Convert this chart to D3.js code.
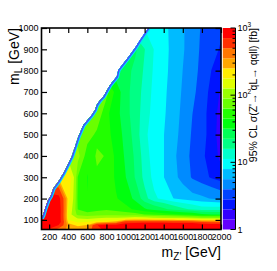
<!DOCTYPE html>
<html><head><meta charset="utf-8">
<script src="https://cdn.jsdelivr.net/npm/d3@7"></script>
<style>
body{margin:0;background:#fff}
svg{display:block}
text{font-family:"Liberation Sans",Arial,Helvetica,sans-serif;fill:#000}
</style>
</head><body>
<svg id="c" width="277" height="271"></svg>
<script>
// ---- data ----
const mZ = [120, 200, 300, 400, 500, 600, 700, 800, 900, 1000, 1100, 1200, 1300, 1400, 1500, 1600, 1700, 1800, 1900, 2000];
const mL = [55, 75, 90, 100, 110, 125, 150, 200, 300, 400, 500, 600, 700, 800, 900, 1000];
// 95% CL cross-section limit [fb], one row per mL value (null = not covered)
const r55   = [760, 680, 420, 330, 320, 380, 650, 760, 780, 800, 820, 850, 850, 850, 850, 860, 870, 900, 900, 900];
const r75   = [850, 850, 700, 300, 230, 260, 700, 800, 800, 820, 840, 850, 860, 860, 860, 870, 880, 880, 880, 880];
const r90   = [850, 900, 850, 220, 170, 180, 230, 250, 300, 650, 660, 660, 660, 660, 650, 640, 620, 500, 470, 470];
const r100  = [850, 900, 850, 180, 140, 140, 150, 160, 170, 260, 280, 280, 270, 270, 260, 240, 220, 200, 190, 190];
const r110  = [null, 900, 850, 160, 120, 110, 120, 125, 125, 130, 145, 135, 125, 118, 115, 108, 98, 90, 88, 88];
const r125  = [null, 900, 850, 150, 80, 72, 78, 80, 78, 75, 72, 64, 57, 52, 48, 44, 40, 34, 32, 32];
const r150  = [null, 900, 850, 170, 62, 52, 56, 60, 56, 50, 42, 33, 28, 24, 20, 17, 15, 13, 13, 13];
const r200  = [null, 850, 800, 200, 58, 45, 50, 52, 46, 38, 29, 18, 12, 10, 8, 7, 6.3, 6, 5.5, 5];
const r300  = [null, null, null, 220, 62, 44, 60, 56, 42, 32, 22, 14, 10, 8, 6.2, 5, 3.8, 3.2, 2.7, 2.3];
const r400  = [null, null, null, null, 100, 48, 66, 62, 40, 30, 21, 13, 9.5, 8, 6, 4.8, 3.6, 3, 2.4, 1.8];
const r500  = [null, null, null, null, null, 75, 58, 50, 38, 28, 19, 12, 9.5, 8, 6.3, 5, 3.8, 3.2, 2.4, 1.6];
const r600  = [null, null, null, null, null, null, 80, 48, 36, 25, 19, 13, 9.8, 8.3, 6.5, 5.2, 4, 3.2, 2.4, 1.7];
const r700  = [null, null, null, null, null, null, null, 70, 38, 25, 19, 14, 10, 8.5, 6.7, 5.4, 4.3, 3.4, 2.5, 1.9];
const r800  = [null, null, null, null, null, null, null, null, null, 26, 20, 15, 10.5, 8.8, 6.9, 5.6, 4.5, 3.6, 2.8, 2.2];
const r900  = [null, null, null, null, null, null, null, null, null, null, 24, 16, 11, 9, 7, 5.8, 4.7, 3.7, 3.2, 2.7];
const r1000 = [null, null, null, null, null, null, null, null, null, null, null, null, 11, 8.8, 7, 5.8, 4.8, 3.8, 3.3, 3.0];
const sigmaRows = [r55, r75, r90, r100, r110, r125, r150, r200, r300, r400, r500, r600, r700, r800, r900, r1000];
// edge of the covered region (mZ', mL)
const edgeZ = [120, 136, 160, 188, 215, 244, 296, 348, 384, 436, 471, 505, 558, 646, 680, 698, 733, 767, 837, 908, 924, 1012, 1099, 1152, 1238];
const edgeL = [108, 123, 158, 192, 212, 249, 280, 319, 350, 397, 444, 490, 545, 592, 616, 639, 662, 678, 733, 772, 803, 853, 906, 944, 1000];
const xTicks = [200, 400, 600, 800, 1000, 1200, 1400, 1600, 1800, 2000];
const yTicks = [100, 200, 300, 400, 500, 600, 700, 800, 900, 1000];
const zTicks = [1, 10, 100, 1000];

// ---- layout ----
const svg = d3.select("#c");
const L = 41.5, R = 221, T = 28, B = 229.5;
const x = d3.scaleLinear().domain([120, 2000]).range([L, R]);
const y = d3.scaleLinear().domain([55, 1000]).range([B, T]);
const z = d3.scaleLog().domain([1, 1000]).range([B, T]);

// ROOT-style rainbow palette, 20 log-spaced levels
const nLev = 20;
const levels = d3.range(nLev).map(k => Math.pow(10, 3 * k / nLev));
const levColor = k => {
  const idx = Math.floor((k + 0.99) * 50 / nLev);
  return d3.hsl(280 - (idx + 1) * 5.6, 1, 0.5).formatHex();
};

// fill uncovered cells with nearest covered value in the row (hidden by clip)
const n = mZ.length, m = mL.length;
const vals = [];
sigmaRows.forEach(row => {
  row.forEach((v, i) => {
    if (v != null) { vals.push(v); return; }
    let best = null, bd = 1e9;
    row.forEach((w, k) => { if (w != null && Math.abs(k - i) < bd) { bd = Math.abs(k - i); best = w; } });
    vals.push(best);
  });
});

const ix = d3.scaleLinear().domain(d3.range(n)).range(mZ);
const iy = d3.scaleLinear().domain(d3.range(m)).range(mL);
const proj = d3.geoTransform({
  point(px, py) {
    const a = Math.max(0, Math.min(n - 1, px - 0.5));
    const b = Math.max(0, Math.min(m - 1, py - 0.5));
    this.stream.point(x(ix(a)), y(iy(b)));
  }
});
const gp = d3.geoPath(proj);

// clip polygon: covered region
const edgePts = edgeZ.map((d, i) => [x(d), y(edgeL[i])]);
const clipPts = edgePts.concat([[x(2000), y(1000)], [x(2000), y(55)], [x(120), y(55)]]);
svg.append("defs").append("clipPath").attr("id", "field")
  .append("path").attr("d", "M" + clipPts.map(p => p.join(",")).join("L") + "Z");

const contours = d3.contours().size([n, m]).thresholds(levels)(vals);
const gField = svg.append("g").attr("clip-path", "url(#field)");
contours.forEach((c, k) => {
  gField.append("path").attr("d", gp(c)).attr("fill", levColor(k)).attr("stroke", "none");
});
// edge strokes
const edgeLine = d3.line()(edgePts);
gField.append("path").attr("d", edgeLine).attr("fill", "none").attr("stroke", "#00e0ff").attr("stroke-width", 5);
gField.append("path").attr("d", edgeLine).attr("fill", "none").attr("stroke", "#4a46ff").attr("stroke-width", 2.8);

// frame
svg.append("rect").attr("x", L).attr("y", T).attr("width", R - L).attr("height", B - T)
  .attr("fill", "none").attr("stroke", "#000").attr("stroke-width", 1.6);

const fontFam = '"Liberation Sans",Arial,Helvetica,sans-serif';
function styleAxis(g) {
  g.select(".domain").remove();
  g.selectAll(".tick line").attr("stroke", "#000").attr("stroke-width", 1.2);
  g.attr("font-family", fontFam).attr("font-size", 9);
  g.selectAll("text").attr("fill", "#000");
}
svg.append("g").attr("transform", `translate(0,${B})`)
  .call(d3.axisBottom(x).tickValues(xTicks).tickSizeInner(-5).tickSizeOuter(0).tickPadding(4).tickFormat(d3.format("d")))
  .call(styleAxis);
svg.append("g").attr("transform", `translate(0,${T})`)
  .call(d3.axisTop(x).tickValues(xTicks).tickSizeInner(-5).tickSizeOuter(0).tickFormat(""))
  .call(styleAxis);
svg.append("g").attr("transform", `translate(${L},0)`)
  .call(d3.axisLeft(y).tickValues(yTicks).tickSizeInner(-5.5).tickSizeOuter(0).tickPadding(3).tickFormat(d3.format("d")))
  .call(styleAxis);
svg.append("g").attr("transform", `translate(${R},0)`)
  .call(d3.axisRight(y).tickValues(yTicks).tickSizeInner(-5.5).tickSizeOuter(0).tickFormat(""))
  .call(styleAxis);

// colour bar
const cbL = 222.8, cbR = 235.5;
levels.forEach((t, k) => {
  const top = k + 1 < nLev ? levels[k + 1] : 1000;
  svg.append("rect").attr("x", cbL).attr("width", cbR - cbL)
    .attr("y", z(top)).attr("height", z(t) - z(top)).attr("fill", levColor(k));
});
svg.append("line").attr("x1", cbR).attr("x2", cbR).attr("y1", T).attr("y2", B)
  .attr("stroke", "#000").attr("stroke-width", 1);
z.ticks().forEach(v => {
  const major = Math.abs(Math.log10(v) - Math.round(Math.log10(v))) < 1e-9;
  svg.append("line").attr("x1", cbR).attr("x2", cbR - (major ? 5 : 3))
    .attr("y1", z(v)).attr("y2", z(v)).attr("stroke", "#000").attr("stroke-width", 1);
});
zTicks.forEach(v => {
  const e = Math.round(Math.log10(v));
  const t = svg.append("text").attr("x", 237.5).attr("y", z(v)).attr("dy", "0.35em").attr("font-size", 9);
  if (e <= 1) t.text(String(v));
  else { t.text("10"); t.append("tspan").attr("dy", -4).attr("font-size", 6.5).text(String(e)); }
});

// titles
svg.append("text").attr("transform", `translate(257,${T}) rotate(-90)`).attr("text-anchor", "end")
  .attr("font-size", 10.5).text("95% CL σ(Z'→ qL→ qqll) [fb]");
const yt = svg.append("text").attr("transform", `translate(18.5,${T}) rotate(-90)`).attr("text-anchor", "end").attr("font-size", 14);
yt.append("tspan").text("m");
yt.append("tspan").attr("font-size", 10).attr("dy", 3).text("L");
yt.append("tspan").attr("dy", -3).text(" [GeV]");
const xt = svg.append("text").attr("x", R).attr("y", 257).attr("text-anchor", "end").attr("font-size", 14);
xt.append("tspan").text("m");
xt.append("tspan").attr("font-size", 10).attr("dy", 3).text("Z'");
xt.append("tspan").attr("dy", -3).text(" [GeV]");
</script>
</body></html>
